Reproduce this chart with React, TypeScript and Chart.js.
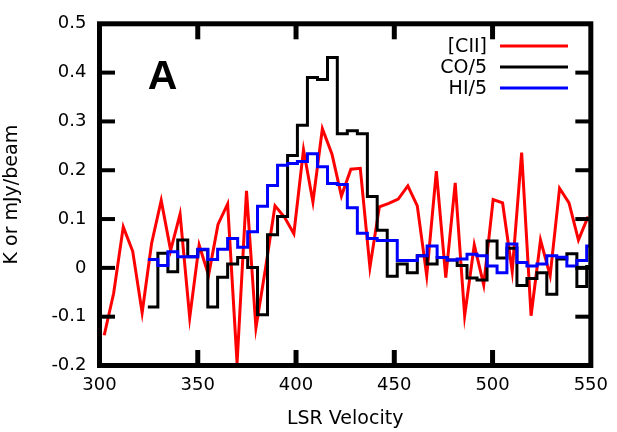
import React, { useEffect, useRef } from "react";
import { Chart, registerables } from "chart.js";

Chart.register(...registerables);

// [CII] spectrum: channel velocities (km/s) and intensities
const ciiVelocity = [
  302.4, 307.2, 312.1, 316.9, 321.7, 326.5, 331.4, 336.2, 341.0, 345.9,
  350.7, 355.5, 360.3, 365.2, 370.0, 374.8, 379.6, 384.5, 389.3, 394.1,
  398.9, 403.8, 408.6, 413.4, 418.3, 423.1, 427.9, 432.7, 437.6, 442.4,
  447.2, 452.0, 456.9, 461.7, 466.5, 471.4, 476.2, 481.0, 485.8, 490.7,
  495.5, 500.3, 505.1, 510.0, 514.8, 519.6, 524.4, 529.3, 534.1, 538.9,
  543.7, 548.6,
];
const ciiValues = [
  -0.138, -0.052, 0.084, 0.034, -0.092, 0.05, 0.138, 0.036, 0.11, -0.102,
  0.047, -0.015, 0.089, 0.131, -0.195, 0.158, -0.123, 0.0, 0.127, 0.104,
  0.07, 0.242, 0.135, 0.285, 0.233, 0.147, 0.202, 0.204, 0.001, 0.125,
  0.132, 0.141, 0.168, 0.127, -0.016, 0.198, -0.02, 0.174, -0.098, 0.047,
  -0.035, 0.14, 0.133, -0.007, 0.236, -0.098, 0.057, -0.016, 0.163, 0.133,
  0.057, 0.105,
];

// CO/5 and HI/5 histogram steps: left bin edges (last entry = right edge of last bin)
const binEdges = [
  324.6, 329.7, 334.8, 339.8, 344.9, 350.0, 355.1, 360.1, 365.2, 370.3,
  375.4, 380.4, 385.5, 390.6, 395.7, 400.7, 405.8, 410.9, 416.0, 421.0,
  426.1, 431.2, 436.3, 441.3, 446.4, 451.5, 456.6, 461.7, 466.7, 471.8,
  476.9, 482.0, 487.0, 492.1, 497.2, 502.3, 507.3, 512.4, 517.5, 522.6,
  527.6, 532.7, 537.8, 542.9, 547.9, 553.0,
];
const coValues = [
  -0.08, 0.03, -0.008, 0.057, 0.023, 0.037, -0.08, -0.019, 0.008, 0.021,
  0.001, -0.096, 0.068, 0.105, 0.23, 0.292, 0.39, 0.386, 0.431, 0.275,
  0.281, 0.275, 0.146, 0.077, -0.017, 0.008, -0.01, 0.025, 0.008, 0.021,
  0.016, 0.005, -0.021, -0.025, 0.055, 0.02, 0.04, -0.036, -0.022, -0.01,
  -0.054, 0.018, 0.029, -0.038, 0.003,
];
const hiValues = [
  0.017, 0.005, 0.033, 0.023, 0.023, 0.038, 0.017, 0.038, 0.06, 0.042,
  0.074, 0.126, 0.169, 0.21, 0.214, 0.218, 0.234, 0.207, 0.173, 0.171,
  0.123, 0.071, 0.06, 0.056, 0.056, 0.015, 0.015, 0.025, 0.045, 0.021,
  0.016, 0.018, 0.028, 0.025, 0.004, -0.01, 0.049, 0.011, 0.004, 0.008,
  0.025, 0.022, 0.004, 0.015, 0.045,
];

const seriesLabels = ["[CII]", "CO/5", "HI/5"];
const panelLabel = "A";
const xTitle = "LSR Velocity";
const yTitle = "K or mJy/beam";

const FONT = "'DejaVu Sans', sans-serif";

const stepData = (vals: number[]) =>
  binEdges.map((x, i) => ({ x, y: vals[Math.min(i, vals.length - 1)] }));

const decorPlugin = {
  id: "decor",
  afterDatasetsDraw(chart: any) {
    const { ctx, chartArea: a, scales } = chart;
    const xs = scales.x;
    const ys = scales.y;
    ctx.save();
    ctx.strokeStyle = "#000";
    const tl = 15.5;
    const seg = (x1: number, y1: number, x2: number, y2: number) => {
      ctx.beginPath();
      ctx.moveTo(x1, y1);
      ctx.lineTo(x2, y2);
      ctx.stroke();
    };
    ctx.lineWidth = 5;
    xs.ticks.forEach((t: any) => {
      if (t.value <= xs.min + 1e-9 || t.value >= xs.max - 1e-9) return;
      const px = xs.getPixelForValue(t.value);
      seg(px, a.top, px, a.top + tl);
      seg(px, a.bottom, px, a.bottom - tl);
    });
    ctx.lineWidth = 4;
    ys.ticks.forEach((t: any) => {
      if (t.value <= ys.min + 1e-9 || t.value >= ys.max - 1e-9) return;
      const py = ys.getPixelForValue(t.value);
      seg(a.left, py, a.left + tl, py);
      seg(a.right, py, a.right - tl, py);
    });
    ctx.lineWidth = 5;
    ctx.strokeRect(a.left, a.top, a.right - a.left, a.bottom - a.top);

    // legend
    const rows = [46, 67, 88];
    ctx.font = `19px ${FONT}`;
    ctx.textAlign = "right";
    ctx.textBaseline = "middle";
    chart.data.datasets.forEach((ds: any, i: number) => {
      const y = rows[i];
      ctx.fillStyle = "#000";
      ctx.fillText(ds.label, 487, y + 1);
      ctx.strokeStyle = ds.borderColor;
      ctx.lineWidth = 3;
      seg(500, y, 568, y);
    });

    // panel label
    ctx.fillStyle = "#000";
    ctx.font = `bold 41px 'Liberation Sans', sans-serif`;
    ctx.textAlign = "center";
    ctx.textBaseline = "middle";
    ctx.fillText(panelLabel, 162.5, 78);
    ctx.restore();
  },
};

export default function App() {
  const ref = useRef<HTMLCanvasElement | null>(null);
  useEffect(() => {
    if (!ref.current) return;
    const chart = new Chart(ref.current, {
      type: "line",
      data: {
        datasets: [
          {
            label: seriesLabels[0],
            data: ciiVelocity.map((x, i) => ({ x, y: ciiValues[i] })),
            borderColor: "#ff0000",
            borderWidth: 3,
            pointRadius: 0,
            tension: 0,
            order: 3,
          },
          {
            label: seriesLabels[1],
            data: stepData(coValues),
            borderColor: "#000000",
            borderWidth: 3,
            pointRadius: 0,
            stepped: "before",
            order: 2,
          },
          {
            label: seriesLabels[2],
            data: stepData(hiValues),
            borderColor: "#0000ff",
            borderWidth: 3,
            pointRadius: 0,
            stepped: "before",
            order: 1,
          },
        ],
      },
      options: {
        animation: false,
        responsive: false,
        devicePixelRatio: 1,
        parsing: false as any,
        layout: { padding: { left: 0, top: 19.5, right: 23.5, bottom: 0 } },
        plugins: {
          legend: { display: false },
          tooltip: { enabled: false },
          title: { display: false },
        },
        scales: {
          x: {
            type: "linear",
            min: 300,
            max: 550,
            ticks: {
              stepSize: 50,
              color: "#000",
              padding: 9,
              font: { family: FONT, size: 18 },
            },
            grid: { display: false, drawTicks: false },
            border: { display: false },
            title: {
              display: true,
              text: xTitle,
              color: "#000",
              font: { family: FONT, size: 19 },
              padding: { top: 0, bottom: 1.6 },
            },
            afterFit: (s: any) => {
              s.height = 66.5;
            },
          },
          y: {
            type: "linear",
            min: -0.2,
            max: 0.5,
            ticks: {
              stepSize: 0.1,
              color: "#000",
              padding: 13,
              font: { family: FONT, size: 18 },
              callback: (v: any) => {
                const n = Number(v);
                return Math.abs(n) < 1e-9 ? "0" : n.toFixed(1);
              },
            },
            grid: { display: false, drawTicks: false },
            border: { display: false },
            title: {
              display: true,
              text: yTitle,
              color: "#000",
              font: { family: FONT, size: 19 },
              padding: { top: 1, bottom: 0 },
            },
            afterFit: (s: any) => {
              s.width = 99.5;
            },
          },
        },
      },
      plugins: [decorPlugin],
    });
    return () => chart.destroy();
  }, []);
  return (
    <div style={{ position: "absolute", left: 0, top: 0, width: 617, height: 432, background: "#fff" }}>
      <canvas ref={ref} width={617} height={432} style={{ display: "block" }} />
    </div>
  );
}
